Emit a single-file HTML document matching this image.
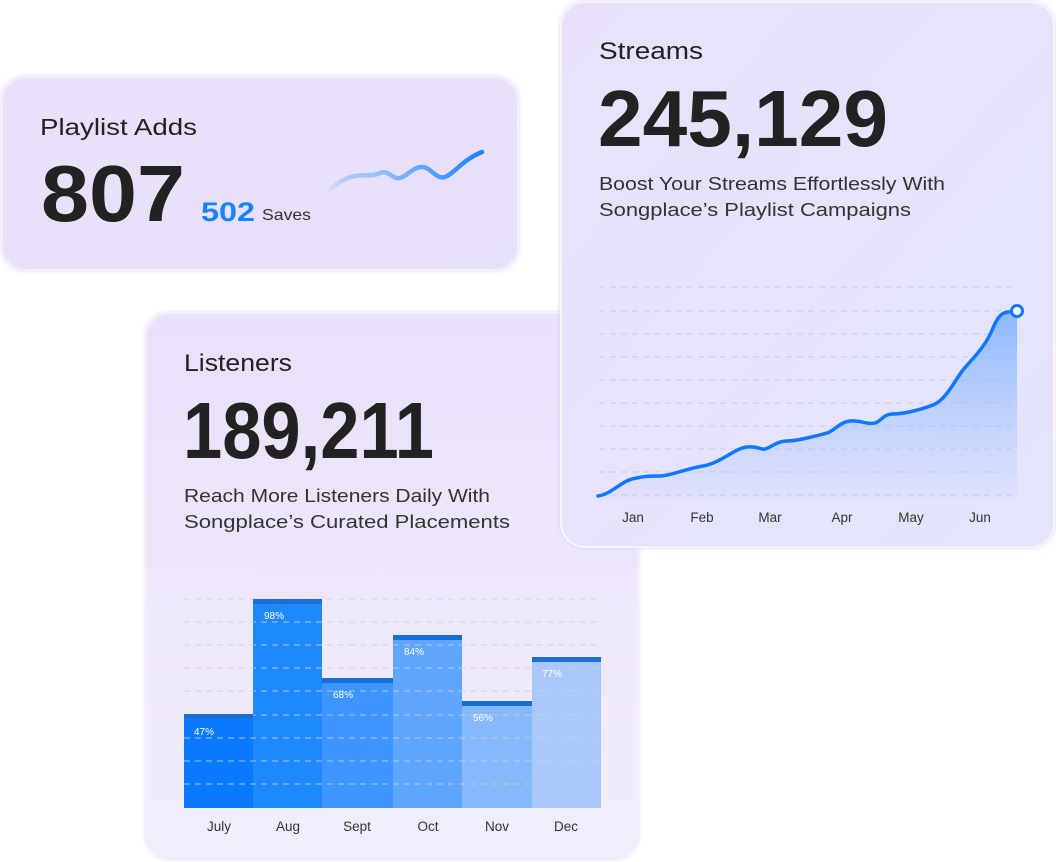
<!DOCTYPE html>
<html><head><meta charset="utf-8"><style>
html,body{margin:0;padding:0;background:#fff;width:1056px;height:862px;overflow:hidden}
svg{display:block;font-family:"Liberation Sans",sans-serif}
</style></head><body>
<svg width="1056" height="862" viewBox="0 0 1056 862">
<defs>
<linearGradient id="c1" x1="0" y1="0" x2="1" y2="1"><stop offset="0" stop-color="#ebe0fa"/><stop offset="1" stop-color="#e7e0fb"/></linearGradient>
<linearGradient id="c2" x1="0" y1="0" x2="1" y2="1"><stop offset="0" stop-color="#e9e1fb"/><stop offset="1" stop-color="#e2e5fc"/></linearGradient>
<linearGradient id="c3" x1="0" y1="0" x2="0" y2="1"><stop offset="0" stop-color="#e9e0fa"/><stop offset="1" stop-color="#f2eefc"/></linearGradient>
<linearGradient id="sp" x1="0" y1="0" x2="1" y2="0"><stop offset="0" stop-color="#4d9bff" stop-opacity="0"/><stop offset="0.3" stop-color="#9cc4ff"/><stop offset="1" stop-color="#1883ff"/></linearGradient>
<linearGradient id="ar" x1="0" y1="0" x2="0" y2="1"><stop offset="0" stop-color="#7fb2ff" stop-opacity="0.9"/><stop offset="1" stop-color="#a9c6ff" stop-opacity="0.1"/></linearGradient>
<filter id="sh" x="-10%" y="-10%" width="120%" height="120%"><feDropShadow dx="0" dy="0" stdDeviation="2" flood-color="#c8bde8" flood-opacity="0.6"/></filter>
</defs>

<!-- Playlist Adds card -->
<rect x="2" y="77" width="516" height="193" rx="24" fill="url(#c1)" stroke="#f4effd" stroke-width="2" filter="url(#sh)"/>
<text x="40" y="135" font-size="23" fill="#222" textLength="157" lengthAdjust="spacingAndGlyphs">Playlist Adds</text>
<text x="41" y="221" font-size="80" font-weight="bold" fill="#222" textLength="144" lengthAdjust="spacingAndGlyphs">807</text>
<text x="201" y="221" font-size="27" font-weight="bold" fill="#1883ff" textLength="54" lengthAdjust="spacingAndGlyphs">502</text>
<text x="262" y="220" font-size="16" fill="#333" textLength="49" lengthAdjust="spacingAndGlyphs">Saves</text>
<path d="M325,193 C335,185 343,178 355,176 S372,177 380,173 S393,180 400,178 S413,167 422,167 S436,180 445,177 S462,160 482,152" fill="none" stroke="url(#sp)" stroke-width="4.5" stroke-linecap="round"/>

<!-- Listeners card -->
<rect x="146" y="313" width="492" height="545" rx="24" fill="url(#c3)" stroke="#f4effd" stroke-width="2" filter="url(#sh)"/>
<text x="184" y="371" font-size="24" fill="#222" textLength="108" lengthAdjust="spacingAndGlyphs">Listeners</text>
<text x="183" y="458" font-size="80" font-weight="bold" fill="#222" textLength="251" lengthAdjust="spacingAndGlyphs">189,211</text>
<text x="184" y="502" font-size="18.5" fill="#333" textLength="306" lengthAdjust="spacingAndGlyphs">Reach More Listeners Daily With</text>
<text x="184" y="528" font-size="18.5" fill="#333" textLength="326" lengthAdjust="spacingAndGlyphs">Songplace’s Curated Placements</text>
<g>
<rect x="184" y="714" width="69" height="94" fill="#0a7bff"/>
<rect x="253" y="599" width="69" height="209" fill="#1e88ff"/>
<rect x="322" y="678" width="71" height="130" fill="#3d95ff"/>
<rect x="393" y="635" width="69" height="173" fill="#5ea6ff"/>
<rect x="462" y="701" width="70" height="107" fill="#86b8fc"/>
<rect x="532" y="657" width="69" height="151" fill="#a8c8fb"/>
</g>
<g stroke="#d0cbe6" stroke-width="1.5" stroke-dasharray="6,5" opacity="0.55">
<line x1="184" y1="599" x2="601" y2="599"/><line x1="184" y1="622" x2="601" y2="622"/><line x1="184" y1="645" x2="601" y2="645"/><line x1="184" y1="668" x2="601" y2="668"/><line x1="184" y1="691" x2="601" y2="691"/><line x1="184" y1="715" x2="601" y2="715"/><line x1="184" y1="738" x2="601" y2="738"/><line x1="184" y1="761" x2="601" y2="761"/><line x1="184" y1="784" x2="601" y2="784"/>
</g>
<g fill="#1a6fd6">
<rect x="184" y="714" width="69" height="5"/><rect x="253" y="599" width="69" height="5"/><rect x="322" y="678" width="71" height="5"/><rect x="393" y="635" width="69" height="5"/><rect x="462" y="701" width="70" height="5"/><rect x="532" y="657" width="69" height="5"/>
</g>
<g fill="#fff" font-size="10">
<text x="194" y="735">47%</text><text x="264" y="619">98%</text><text x="333" y="698">68%</text><text x="404" y="655">84%</text><text x="473" y="721">56%</text><text x="542" y="677">77%</text>
</g>
<g fill="#333" font-size="13.5" text-anchor="middle">
<text x="219" y="831">July</text><text x="288" y="831">Aug</text><text x="357" y="831">Sept</text><text x="428" y="831">Oct</text><text x="497" y="831">Nov</text><text x="566" y="831">Dec</text>
</g>

<!-- Streams card -->
<rect x="561" y="2" width="493" height="545" rx="24" fill="url(#c2)" stroke="#f6f3fe" stroke-width="2" filter="url(#sh)"/>
<text x="599" y="59" font-size="24" fill="#222" textLength="104" lengthAdjust="spacingAndGlyphs">Streams</text>
<text x="598" y="146" font-size="80" font-weight="bold" fill="#222" textLength="290" lengthAdjust="spacingAndGlyphs">245,129</text>
<text x="599" y="190" font-size="18.5" fill="#333" textLength="346" lengthAdjust="spacingAndGlyphs">Boost Your Streams Effortlessly With</text>
<text x="599" y="216" font-size="18.5" fill="#333" textLength="312" lengthAdjust="spacingAndGlyphs">Songplace’s Playlist Campaigns</text>
<g stroke="#d4d2e8" stroke-width="1.5" stroke-dasharray="6,5">
<line x1="599" y1="287" x2="1016" y2="287"/><line x1="599" y1="311" x2="1016" y2="311"/><line x1="599" y1="334" x2="1016" y2="334"/><line x1="599" y1="357" x2="1016" y2="357"/><line x1="599" y1="380" x2="1016" y2="380"/><line x1="599" y1="403" x2="1016" y2="403"/><line x1="599" y1="426" x2="1016" y2="426"/><line x1="599" y1="449" x2="1016" y2="449"/><line x1="599" y1="472" x2="1016" y2="472"/><line x1="599" y1="495" x2="1016" y2="495"/>
</g>
<path d="M598,496 C612,494 620,482 632,479 S650,476 660,476 S685,469 703,466 S735,448 747,447 S760,450 765,449 S777,441 787,441 S820,435 827,433 S840,422 850,421 S868,425 875,423 S883,414 893,414 S920,410 933,405 S955,380 963,370 S985,348 993,328 S1008,313 1017,311 L1017,500 L598,500 Z" fill="url(#ar)"/>
<path d="M598,496 C612,494 620,482 632,479 S650,476 660,476 S685,469 703,466 S735,448 747,447 S760,450 765,449 S777,441 787,441 S820,435 827,433 S840,422 850,421 S868,425 875,423 S883,414 893,414 S920,410 933,405 S955,380 963,370 S985,348 993,328 S1008,313 1017,311" fill="none" stroke="#1177ff" stroke-width="3.5" stroke-linecap="round"/>
<circle cx="1017" cy="311" r="5.5" fill="#fff" stroke="#1177ff" stroke-width="3"/>
<g fill="#333" font-size="13.5" text-anchor="middle">
<text x="633" y="522">Jan</text><text x="702" y="522">Feb</text><text x="770" y="522">Mar</text><text x="842" y="522">Apr</text><text x="911" y="522">May</text><text x="980" y="522">Jun</text>
</g>
</svg>
</body></html>
